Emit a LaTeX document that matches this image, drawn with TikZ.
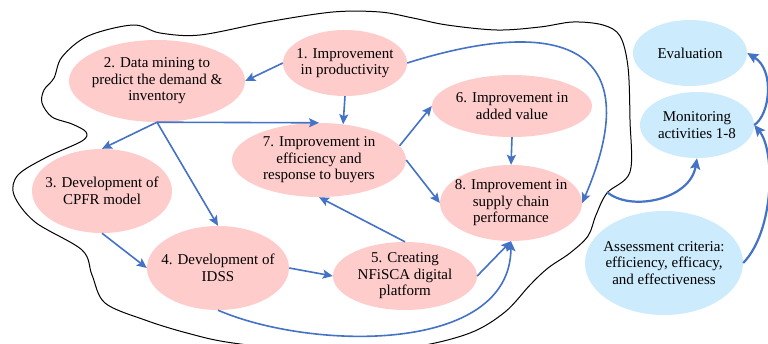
\documentclass[tikz,border=0pt]{standalone}
\usepackage{fontspec}
\setmainfont{Liberation Serif}
\newfontfamily\nodeserif{Liberation Serif}
\usetikzlibrary{arrows.meta,shapes.geometric}
\definecolor{pinkfill}{HTML}{FFCCCC}
\definecolor{bluefill}{HTML}{CCEBFC}
\definecolor{arrblue}{HTML}{4472C4}
\tikzset{
  ell/.style={ellipse, draw=none, inner sep=0pt},
  pinkell/.style={ell, fill=pinkfill},
  blueell/.style={ell, fill=bluefill},
  txt/.style={align=center, font=\nodeserif\fontsize{15}{16.5}\selectfont, inner sep=0pt},
  arr/.style={draw=arrblue, line width=1.6pt, -{Stealth[length=10pt,width=9pt,inset=2pt]}},
  thickarr/.style={draw=arrblue, line width=2.2pt, -{Stealth[length=11pt,width=10pt,inset=2pt]}},
  blob/.style={draw=black, line width=1pt},
}
\begin{document}
\begin{tikzpicture}[x=1pt,y=-1pt]
\useasboundingbox (0,0) rectangle (768,343);
\fill[white] (0,0) rectangle (768,343);

% outline of the group
\draw[blob] plot[smooth cycle, tension=0.55] coordinates {
 (133,25) (160,33) (200,35) (267,22) (333,12) (380,12) (413,18) (447,25)
 (497,30) (540,27) (573,22) (603,25) (620,36) (628,67) (630,120) (630,172)
 (607,193) (596,215) (588,236) (570,253) (548,268) (530,285) (505,312)
 (470,333) (413,347) (330,353) (233,343) (187,333) (145,320) (105,303)
 (92,275) (82,250) (35,222) (14,195) (18,175) (47,157) (82,141) (86,132)
 (72,124) (52,117) (42,103) (44,90) (54,78) (62,57) (88,36)};

% nodes
\node[pinkell, minimum width=124, minimum height=66, label={[txt]center:{1. Improvement\\in productivity}}] (n1) at (345,63) {};
\node[pinkell, minimum width=176, minimum height=82, label={[txt]center:{2. Data mining to\\predict the demand \&\\inventory}}] (n2) at (157,81) {};
\node[pinkell, minimum width=140, minimum height=84, label={[txt]center:{3. Development of\\CPFR model}}] (n3) at (102,191) {};
\node[pinkell, minimum width=142, minimum height=84, label={[txt]center:{4. Development of\\IDSS}}] (n4) at (218,268) {};
\node[pinkell, minimum width=144, minimum height=68, label={[txt]center:{5. Creating\\NFiSCA digital\\platform}}] (n5) at (405,276) {};
\node[pinkell, minimum width=160, minimum height=62, label={[txt]center:{6. Improvement in\\added value}}] (n6) at (512,106) {};
\node[pinkell, minimum width=174, minimum height=74, label={[txt]center:{7. Improvement in\\efficiency and\\response to buyers}}] (n7) at (319,160) {};
\node[pinkell, minimum width=142, minimum height=76, label={[txt]center:{8. Improvement in\\supply chain\\performance}}] (n8) at (511,203) {};
\node[blueell, minimum width=114, minimum height=66, label={[txt]center:{Evaluation}}] (ev) at (690,53) {};
\node[blueell, minimum width=114, minimum height=66, label={[txt]center:{Monitoring\\activities 1-8}}] (mon) at (697,125) {};
\node[blueell, minimum width=158, minimum height=104, label={[txt]center:{Assessment criteria:\\efficiency, efficacy,\\and effectiveness}}] (as) at (664,263) {};

\coordinate (blobout) at (607,192);

% connectors
\draw[arr] (n1.west) -- (n2.east);
\draw[arr] (n1.south) -- (n7.56);
\draw[arr] (n2.south) -- (n3.north);
\draw[arr] (n2.south) -- (n7.north);
\draw[arr] (n2.south) -- (n4.north);
\draw[arr] (n3.south) -- (n4.west);
\draw[arr] (n4.east) -- (n5.west);
\draw[arr] (n5.north) -- (n7.south);
\draw[arr] (n5.east) -- (n8.south);
\draw[arr] (n7.10) -- (n6.west);
\draw[arr] (n7.east) -- (n8.west);
\draw[arr] (n6.south) -- (n8.north);
\draw[arr] (n1.east) .. controls (560,15) and (650,45) .. (n8.east);
\draw[arr] (n4.south) .. controls (310,350) and (510,355) .. (n8.south);
\draw[thickarr] (blobout) .. controls (630,212) and (690,200) .. (mon.south);
\draw[thickarr] (as.east) .. controls (775,230) and (775,150) .. (mon.east);
\draw[thickarr] (mon.east) .. controls (770,115) and (775,70) .. (ev.east);
\end{tikzpicture}
\end{document}
